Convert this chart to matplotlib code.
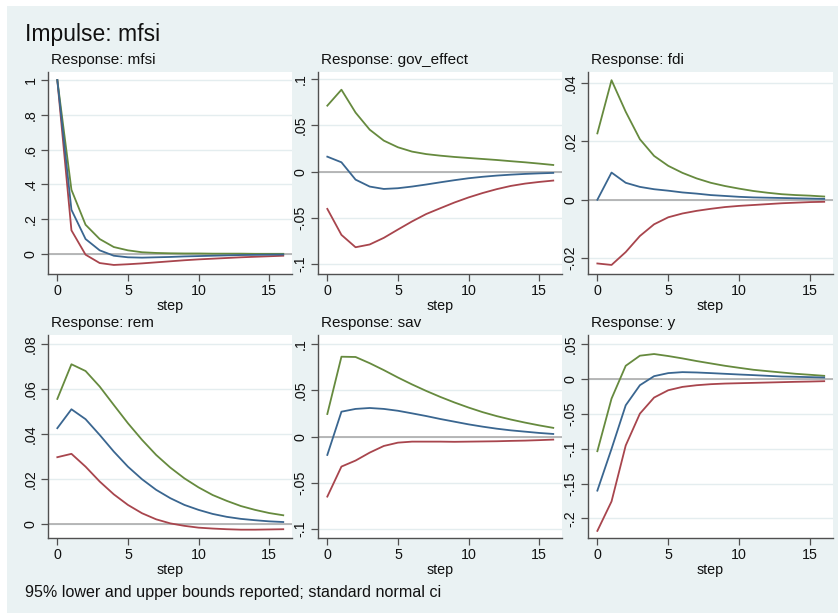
import matplotlib
matplotlib.use("Agg")
import matplotlib.pyplot as plt
from matplotlib.patches import Rectangle
from matplotlib.ticker import FuncFormatter

plt.rcParams['font.family'] = ['Liberation Sans', 'DejaVu Sans']

# ---- data -------------------------------------------------------------
steps = list(range(17))

impulse = "mfsi"
responses = ["mfsi", "gov_effect", "fdi", "rem", "sav", "y"]

irf_mfsi = [1.0, 0.254, 0.086, 0.021, -0.010, -0.019, -0.021, -0.019, -0.017,
            -0.014, -0.012, -0.010, -0.008, -0.006, -0.005, -0.004, -0.003]
lo_mfsi = [1.0, 0.136, -0.004, -0.052, -0.063, -0.059, -0.054, -0.048, -0.042,
           -0.036, -0.031, -0.027, -0.023, -0.019, -0.016, -0.013, -0.010]
hi_mfsi = [1.0, 0.369, 0.168, 0.086, 0.040, 0.021, 0.010, 0.006, 0.004,
           0.003, 0.003, 0.002, 0.002, 0.002, 0.001, 0.001, 0.001]

irf_gov = [0.0162, 0.0101, -0.0087, -0.0162, -0.0188, -0.0180, -0.0162, -0.0140,
           -0.0116, -0.0093, -0.0072, -0.0056, -0.0043, -0.0033, -0.0025, -0.0019, -0.0014]
lo_gov = [-0.0404, -0.0686, -0.0820, -0.0790, -0.0718, -0.0628, -0.0540, -0.0460,
          -0.0397, -0.0335, -0.0280, -0.0232, -0.0190, -0.0155, -0.0130, -0.0112, -0.0097]
hi_gov = [0.0715, 0.0888, 0.0640, 0.0455, 0.0336, 0.0264, 0.0217, 0.0190,
          0.0173, 0.0159, 0.0148, 0.0137, 0.0126, 0.0113, 0.0101, 0.0087, 0.0072]

irf_fdi = [0.0000, 0.0093, 0.0058, 0.0044, 0.0036, 0.0031, 0.0025, 0.0021,
           0.0016, 0.0013, 0.0010, 0.0008, 0.0007, 0.0006, 0.0005, 0.0004, 0.0003]
lo_fdi = [-0.0218, -0.0223, -0.0179, -0.0124, -0.0084, -0.0060, -0.0047, -0.0038,
          -0.0031, -0.0025, -0.0021, -0.0018, -0.0015, -0.0012, -0.0010, -0.0008, -0.0007]
hi_fdi = [0.0227, 0.0409, 0.0301, 0.0207, 0.0150, 0.0116, 0.0092, 0.0073,
          0.0058, 0.0047, 0.0038, 0.0030, 0.0024, 0.0019, 0.0016, 0.0014, 0.0011]

irf_rem = [0.0427, 0.0511, 0.0467, 0.0397, 0.0323, 0.0256, 0.0200, 0.0153,
           0.0116, 0.0086, 0.0064, 0.0046, 0.0033, 0.0024, 0.0018, 0.0013, 0.0010]
lo_rem = [0.0298, 0.0313, 0.0256, 0.0190, 0.0133, 0.0086, 0.0049, 0.0022,
          0.0004, -0.0007, -0.0015, -0.0019, -0.0022, -0.0024, -0.0024, -0.0023, -0.0022]
hi_rem = [0.0557, 0.0711, 0.0681, 0.0612, 0.0530, 0.0449, 0.0375, 0.0308,
          0.0252, 0.0204, 0.0164, 0.0130, 0.0104, 0.0081, 0.0064, 0.0050, 0.0040]

irf_sav = [-0.0198, 0.0270, 0.0300, 0.0310, 0.0300, 0.0280, 0.0252, 0.0223,
           0.0191, 0.0162, 0.0133, 0.0108, 0.0086, 0.0068, 0.0054, 0.0040, 0.0029]
lo_sav = [-0.0649, -0.0324, -0.0259, -0.0173, -0.0101, -0.0065, -0.0054, -0.0054,
          -0.0054, -0.0056, -0.0054, -0.0052, -0.0050, -0.0046, -0.0043, -0.0038, -0.0032]
hi_sav = [0.0245, 0.0865, 0.0862, 0.0795, 0.0720, 0.0640, 0.0565, 0.0495,
          0.0430, 0.0370, 0.0315, 0.0265, 0.0222, 0.0185, 0.0152, 0.0122, 0.0095]

irf_y = [-0.160, -0.100, -0.0375, -0.0087, 0.0043, 0.0087, 0.0101, 0.0096,
         0.0087, 0.0077, 0.0067, 0.0058, 0.0048, 0.0038, 0.0034, 0.0029, 0.0024]
lo_y = [-0.2178, -0.1755, -0.0952, -0.0495, -0.0264, -0.0159, -0.0111, -0.0087,
        -0.0072, -0.0063, -0.0058, -0.0053, -0.0048, -0.0043, -0.0038, -0.0034, -0.0029]
hi_y = [-0.1034, -0.0279, 0.0192, 0.0337, 0.0361, 0.0332, 0.0298, 0.0260,
        0.0226, 0.0192, 0.0163, 0.0135, 0.0115, 0.0096, 0.0077, 0.0063, 0.0048]

x_ticks = [0, 5, 10, 15]
y_ticks = [
    [0, 0.2, 0.4, 0.6, 0.8, 1.0],
    [-0.1, -0.05, 0, 0.05, 0.1],
    [-0.02, 0, 0.02, 0.04],
    [0, 0.02, 0.04, 0.06, 0.08],
    [-0.1, -0.05, 0, 0.05, 0.1],
    [-0.2, -0.15, -0.1, -0.05, 0, 0.05],
]
y_limits = [
    (-0.115, 1.046),
    (-0.111, 0.108),
    (-0.0254, 0.0437),
    (-0.0061, 0.0841),
    (-0.1097, 0.110),
    (-0.228, 0.0634),
]
series = [
    (irf_mfsi, lo_mfsi, hi_mfsi),
    (irf_gov, lo_gov, hi_gov),
    (irf_fdi, lo_fdi, hi_fdi),
    (irf_rem, lo_rem, hi_rem),
    (irf_sav, lo_sav, hi_sav),
    (irf_y, lo_y, hi_y),
]
note = "95% lower and upper bounds reported; standard normal ci"

# ---- style ------------------------------------------------------------
W, H = 838, 613
BG = "#eaf2f3"
C_IRF = "#3a6690"
C_LO = "#a8454d"
C_HI = "#668a3e"
AXIS = "#505050"
TXT = "#111111"


def stata_fmt(v, _pos=None):
    s = f"{round(v, 6):g}"
    if s.startswith("0."):
        s = s[1:]
    elif s.startswith("-0."):
        s = "-" + s[2:]
    return s


fig = plt.figure(figsize=(W / 100, H / 100), dpi=100, facecolor="white")
fig.patches.append(Rectangle((7 / W, 0 / H), (W - 7) / W, (H - 6) / H,
                             transform=fig.transFigure, facecolor=BG,
                             edgecolor="none", zorder=-10))

fig.text(25 / W, 1 - 35 / H, f"Impulse: {impulse}", fontsize=16.5,
         color=TXT, ha="left", va="center")

col_x = [(48, 292), (318, 562), (588, 833)]
row_y = [(72, 274), (335, 538)]

for i, name in enumerate(responses):
    r, c = divmod(i, 3)
    x0, x1 = col_x[c]
    y0, y1 = row_y[r]
    ax = fig.add_axes([x0 / W, 1 - y1 / H, (x1 - x0) / W, (y1 - y0) / H])
    ax.set_facecolor("white")
    ax.set_xlim(-0.66, 16.62)
    ax.set_ylim(*y_limits[i])
    ax.set_xticks(x_ticks)
    ax.set_yticks(y_ticks[i])
    ax.yaxis.set_major_formatter(FuncFormatter(stata_fmt))
    for t in y_ticks[i]:
        ax.axhline(t, color="#e4edef", lw=1.0, zorder=0)
    ax.axhline(0, color="#a6a6a6", lw=1.1, zorder=1)

    irf, lo, hi = series[i]
    ax.plot(steps, lo, color=C_LO, lw=1.3, zorder=3)
    ax.plot(steps, hi, color=C_HI, lw=1.3, zorder=3)
    ax.plot(steps, irf, color=C_IRF, lw=1.3, zorder=4)

    for s in ("top", "right"):
        ax.spines[s].set_visible(False)
    for s in ("left", "bottom"):
        ax.spines[s].set_color(AXIS)
        ax.spines[s].set_linewidth(1.0)
    ax.tick_params(axis="both", direction="out", length=5, width=0.9,
                   color=AXIS, labelsize=10.3, labelcolor=TXT, pad=2.5)
    for lab in ax.get_yticklabels():
        lab.set_rotation(90)
        lab.set_va("center")
    ax.set_xlabel("step", fontsize=10.3, color=TXT, labelpad=0.5)
    fig.text((x0 + 3) / W, 1 - (y0 - 12) / H, f"Response: {name}",
             fontsize=11, color=TXT, ha="left", va="center")

fig.text(25 / W, 1 - 592 / H, note, fontsize=11.6, color=TXT,
         ha="left", va="center")

fig.savefig("out.png", dpi=100, facecolor=fig.get_facecolor())
